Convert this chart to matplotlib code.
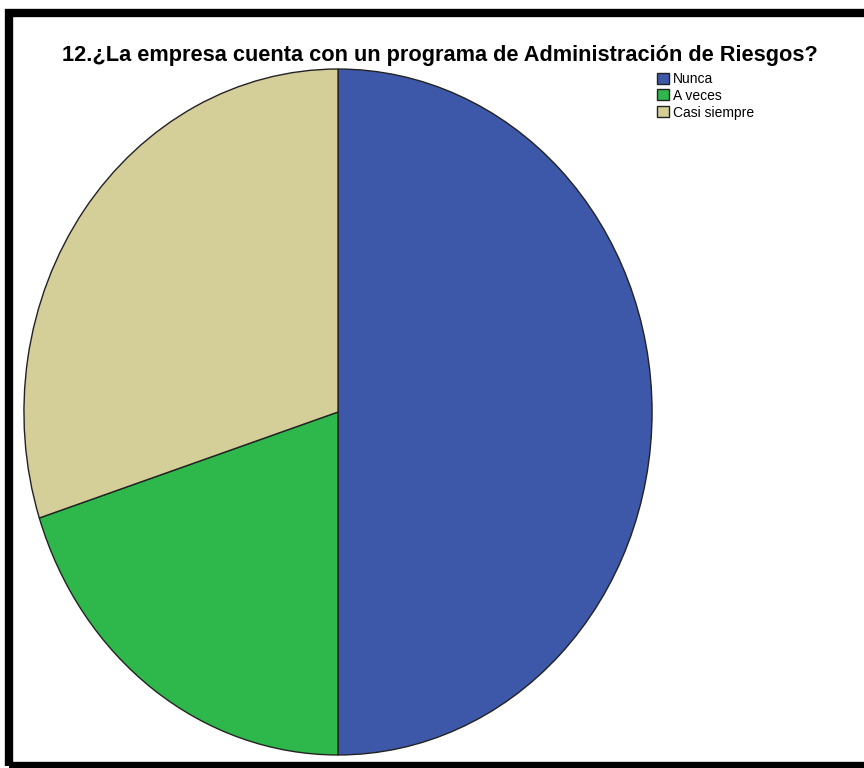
import matplotlib.pyplot as plt
from matplotlib.patches import Rectangle

plt.rcParams['font.family'] = ['Liberation Sans', 'DejaVu Sans']

title = '12.¿La empresa cuenta con un programa de Administración de Riesgos?'
labels = ['Nunca', 'A veces', 'Casi siempre']
percents = [50.0, 20.0, 30.0]
colors = ['#3d58a8', '#2eb84b', '#d4ce99']

fig = plt.figure(figsize=(8.64, 7.68), dpi=100)

# heavy frame on the left, top and bottom (right edge runs off the page)
frame = Rectangle((9 / 864, 2 / 768), 1.2, 753.5 / 768,
                  transform=fig.transFigure, fill=False, edgecolor='black',
                  linewidth=6, clip_on=False)
fig.patches.append(frame)

# the pie is stretched a little taller than wide
ax = fig.add_axes([23 / 864, 12 / 768, 630 / 864, 688 / 768])
wedges, _ = ax.pie(percents, colors=colors, startangle=90, counterclock=False,
                   radius=1.0, wedgeprops=dict(edgecolor='#222222', linewidth=1.0))
ax.set_aspect('auto')
ax.set_xlim(-1.003, 1.003)
ax.set_ylim(-1.003, 1.003)
ax.axis('off')

fig.text(440 / 864, 1 - 55 / 768, title, ha='center', va='center',
         fontsize=15.7, fontweight='bold')

leg = fig.legend(wedges, labels, loc='upper left',
                 bbox_to_anchor=(650 / 864, 1 - 65 / 768), frameon=False,
                 fontsize=10, handlelength=0.85, handleheight=0.85,
                 handletextpad=0.3, labelspacing=0.2, borderpad=0)
for h in leg.legend_handles:
    h.set_edgecolor('#222222')
    h.set_linewidth(1.0)

fig.savefig('out.png', dpi=100)
